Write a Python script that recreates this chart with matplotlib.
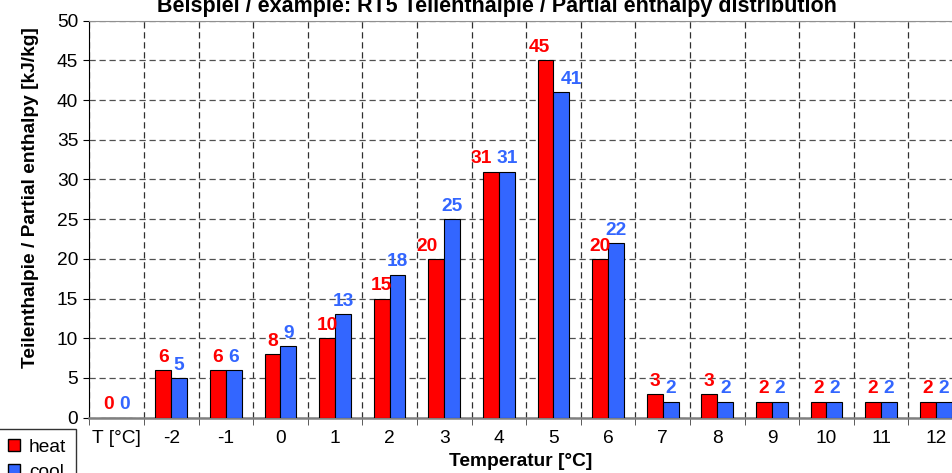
import numpy as np
import matplotlib
matplotlib.use("Agg")
import matplotlib.pyplot as plt
from matplotlib.patches import Patch

plt.rcParams['font.family'] = ['Liberation Sans', 'DejaVu Sans']

# Data
categories = ['T [°C]', '-2', '-1', '0', '1', '2', '3', '4', '5', '6',
              '7', '8', '9', '10', '11', '12']
heat = [0, 6, 6, 8, 10, 15, 20, 31, 45, 20, 3, 3, 2, 2, 2, 2]
cool = [0, 5, 6, 9, 13, 18, 25, 31, 41, 22, 2, 2, 2, 2, 2, 2]

red = '#FF0000'
blue = '#3366FF'
fs = 13.8

fig = plt.figure(figsize=(9.53, 4.73), dpi=100)
W, H = 953, 473
left, right, top, bottom = 89.3, 963, 20.7, 417.7
ax = fig.add_axes([left / W, 1 - bottom / H, (right - left) / W, (bottom - top) / H])

x = np.arange(len(categories))
w = 0.29
ax.bar(x - w / 2, heat, w, color=red, edgecolor='black', linewidth=0.8, zorder=3)
ax.bar(x + w / 2, cool, w, color=blue, edgecolor='black', linewidth=0.8, zorder=3)

# value labels (px nudges where the labels would collide)
px = 0.72
nudge = {6: (-9, 0), 7: (-10, 0), 8: (-6, 10)}
for i in range(len(categories)):
    dh, dc = nudge.get(i, (0, 0))
    ax.annotate(str(heat[i]), (x[i] - w / 2, heat[i]), xytext=(dh * px, 6),
                textcoords='offset points', ha='center', va='baseline',
                color=red, fontsize=fs, fontweight='bold', zorder=4)
    ax.annotate(str(cool[i]), (x[i] + w / 2, cool[i]), xytext=(dc * px, 6),
                textcoords='offset points', ha='center', va='baseline',
                color=blue, fontsize=fs, fontweight='bold', zorder=4)

ax.set_xlim(-0.5, len(categories) - 0.5)
ax.set_ylim(0, 50)
ax.set_yticks(np.arange(0, 51, 5))
ax.set_xticks(x)
ax.set_xticklabels(categories)
ax.set_xticks(np.arange(-0.5, len(categories)), minor=True)
ax.tick_params(axis='x', which='major', length=0, pad=8.5, labelsize=fs)
ax.tick_params(axis='x', which='minor', length=5, color='#404040', direction='out')
ax.tick_params(axis='y', length=4, pad=4, labelsize=fs, direction='out')

ax.grid(axis='x', which='minor', linestyle=(0, (5, 3)), color='#303030', linewidth=0.9)
ax.grid(axis='y', which='major', linestyle=(0, (5, 3)), color='#505050', linewidth=0.9)
ax.set_axisbelow(True)

ax.spines['right'].set_visible(False)
ax.spines['top'].set_color('#909090')
ax.spines['bottom'].set_color('#808080')
ax.spines['bottom'].set_linewidth(1.8)
ax.spines['left'].set_color('black')

ax.set_xlabel('Temperatur [°C]', fontsize=fs, fontweight='bold')
ax.xaxis.set_label_coords(0.494, -0.09)
ax.set_ylabel('Teilenthalpie / Partial enthalpy [kJ/kg]', fontsize=fs, fontweight='bold')
ax.yaxis.set_label_coords(-0.057, 0.554)

fig.text(497 / W, 1 - 12 / H, 'Beispiel / example: RT5 Teilenthalpie / Partial enthalpy distribution',
         ha='center', va='baseline', fontsize=15.5, fontweight='bold')

handles = [Patch(facecolor=red, edgecolor='black', label='heat'),
           Patch(facecolor=blue, edgecolor='black', label='cool')]
leg = fig.legend(handles=handles, loc='upper left', bbox_to_anchor=(-0.002, 1 - 429 / H),
                 borderaxespad=0, fontsize=fs, frameon=True, fancybox=False,
                 handlelength=0.65, handleheight=0.65, handletextpad=0.45,
                 borderpad=0.5, labelspacing=0.45)
leg.get_frame().set_edgecolor('black')
leg.get_frame().set_linewidth(1)

fig.savefig('out.png', dpi=100)
